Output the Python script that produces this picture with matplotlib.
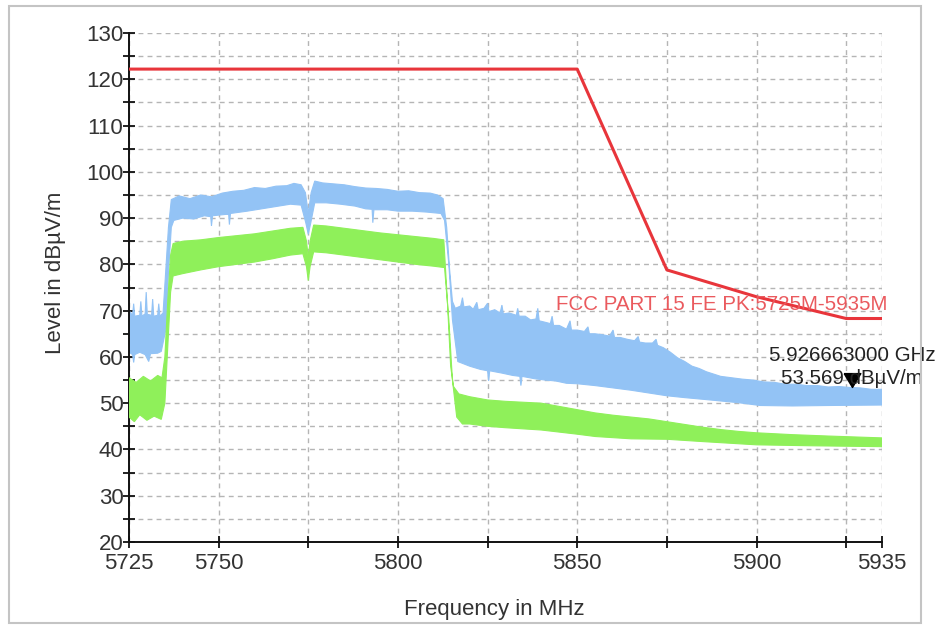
import matplotlib
matplotlib.use('Agg')
import matplotlib.pyplot as plt
from matplotlib.patches import Rectangle
import numpy as np

plt.rcParams['font.family'] = ['Liberation Sans', 'DejaVu Sans']

# limit line FCC PART 15 FE PK
limit_freq = [5725, 5850, 5875, 5900, 5925, 5935]
limit_level = [122.2, 122.2, 78.8, 73.0, 68.3, 68.3]

# peak trace (blue) envelope
blue_top_freq = [5725, 5726, 5726.3, 5726.6, 5728, 5728.3, 5728.6, 5729.5, 5729.8, 5730.1,
                 5731.3, 5731.6, 5731.9, 5733, 5733.3, 5733.6, 5734.5,
                 5735.2, 5736, 5736.8, 5739, 5742, 5745, 5748, 5751, 5754, 5757, 5760, 5763,
                 5766, 5769, 5771, 5773, 5774.2, 5775, 5775.8, 5776.8, 5779, 5782, 5785, 5788,
                 5791, 5794, 5797, 5800, 5803, 5806, 5809, 5811, 5812.6, 5813.6, 5814.4, 5815.2,
                 5816, 5817.5, 5818, 5818.4, 5820, 5821, 5822, 5822.4, 5824, 5825, 5825.4,
                 5827, 5828.5, 5829, 5829.4, 5831, 5833, 5833.4, 5833.8, 5835.5, 5837, 5838.5,
                 5839, 5839.4, 5841, 5842.5, 5843, 5843.4, 5845, 5847, 5848, 5848.4, 5850,
                 5852, 5853, 5853.4, 5855, 5857, 5859, 5860, 5860.4, 5862, 5864, 5866, 5867,
                 5867.4, 5869, 5871, 5872, 5872.4, 5874, 5876, 5878, 5880, 5882, 5884, 5886,
                 5888, 5890, 5893, 5896, 5899, 5902, 5905, 5908, 5911, 5914, 5917, 5920, 5923,
                 5926, 5929, 5932, 5935]
blue_top = [70, 69, 71.5, 68.8, 69, 72, 68.8, 69.3, 74, 69.2,
            69, 72.5, 68.8, 69, 71.5, 68.8, 69.5,
            78, 88, 94, 94.8, 94.2, 95, 94.6, 95.4, 95.8, 96, 96.6, 96.4,
            96.9, 97, 97.5, 97.2, 95.5, 91, 95.5, 98, 97.6, 97.4, 97.2, 96.8,
            96.5, 96.4, 96.2, 95.8, 95.9, 95.5, 95.4, 95, 94.2, 88, 79, 72,
            70.5, 71, 72.8, 70.8, 71, 70.3, 71.8, 70.2, 70.5, 71.6, 69.8,
            70.2, 69.5, 71.2, 69.3, 69.5, 69, 70.5, 68.8, 68.8, 68, 68.2,
            70.5, 67.8, 67.5, 67.2, 68.8, 66.8, 66.8, 66, 67.8, 65.8, 65.8,
            65.5, 66.5, 65, 65, 64.8, 64.5, 65.8, 64.2, 64.2, 63.8, 63.5, 64.4,
            63.2, 63, 63, 63.8, 62.5, 62, 61, 59.8, 59, 58, 57.5, 56.8,
            56.3, 55.8, 55.5, 55.2, 55, 54.6, 54.5, 54.1, 54.1, 53.8, 53.8, 53.5, 53.6,
            53.4, 53.3, 53.0, 53]
blue_low_freq = [5725, 5726, 5726.3, 5726.6, 5728, 5729.5, 5730.5, 5731, 5733, 5734, 5735.3,
                 5736, 5736.8, 5737.5, 5740, 5743, 5746, 5747.8, 5748, 5748.3, 5752, 5752.8,
                 5753, 5753.3, 5758, 5762, 5766, 5770, 5773, 5774.3, 5775, 5775.7, 5776.8,
                 5780, 5784, 5788, 5791, 5792.8, 5793, 5793.3, 5797, 5800, 5804, 5808, 5812,
                 5813, 5814.2, 5815.2, 5816.7, 5820, 5823, 5825, 5825.3, 5825.6, 5829, 5832,
                 5834, 5834.3, 5834.6, 5838, 5841, 5844, 5847, 5850, 5855, 5860, 5865, 5870,
                 5875, 5880, 5887, 5895, 5901, 5910, 5920, 5935]
blue_low = [61, 60.5, 58.8, 60.5, 61, 60.5, 59, 60.7, 60.8, 61.2, 66,
            78, 88, 89.5, 90, 89.8, 90.5, 90.3, 88.3, 90.5, 90.8, 90.8,
            88.6, 91, 91.5, 92, 92.5, 93, 92.8, 89, 86.5, 89, 93.3,
            93.3, 93, 92.6, 92, 91.9, 89, 91.8, 91.8, 91.5, 91.5, 91.3, 91,
            89.5, 80, 68, 59, 58, 57.3, 57, 54.8, 57, 56.5, 56,
            55.8, 53.8, 55.8, 55.3, 55, 54.8, 54.3, 54.2, 53.8, 53.3, 52.8, 52.2,
            51.6, 51.2, 50.7, 50.1, 49.5, 49.4, 49.5, 49.6]

# average trace (green) envelope
green_top_freq = [5725, 5727, 5729, 5731, 5733, 5734.2, 5735, 5735.8, 5736.6, 5737.3, 5740,
                  5745, 5750, 5755, 5760, 5765, 5770, 5773.5, 5774.5, 5775, 5775.5, 5776.5,
                  5780, 5785, 5790, 5795, 5800, 5805, 5810, 5812.8, 5813.8, 5814.7, 5815.5,
                  5817, 5820, 5825, 5830, 5835, 5840, 5845, 5850, 5855, 5860, 5865, 5870,
                  5875, 5880, 5885, 5890, 5895, 5900, 5910, 5920, 5935]
green_top = [55.5, 54.5, 55.8, 54.8, 56, 55.5, 60, 72, 82, 84.5, 85,
             85.3, 85.8, 86.2, 86.6, 87.2, 87.8, 88, 85, 81.5, 85, 88.5,
             88.3, 87.8, 87.3, 86.8, 86.4, 86, 85.6, 85.3, 72, 58, 53.6,
             52, 51.4, 50.7, 50.4, 50.2, 50, 49.3, 48.6, 47.9, 47.4, 47, 46.6,
             46, 45.4, 44.8, 44.3, 43.9, 43.6, 43.2, 42.9, 42.5]
green_low_freq = [5725, 5726.5, 5728, 5730, 5732, 5734, 5735, 5735.8, 5736.6, 5737.3, 5740,
                  5745, 5750, 5755, 5760, 5765, 5770, 5773.5, 5774.5, 5775, 5775.5, 5776.5,
                  5780, 5785, 5790, 5795, 5800, 5805, 5810, 5813, 5814.2, 5815.2, 5816.4,
                  5818, 5820, 5825, 5830, 5840, 5850, 5855, 5865, 5875, 5885, 5900, 5915, 5935]
green_low = [47, 46, 47.5, 46.3, 47.2, 46.5, 50, 62, 74, 77.5, 78,
             78.8, 79.5, 80, 80.5, 81.2, 82, 82.3, 79.5, 76.5, 79.5, 82.7,
             82.5, 82, 81.5, 81, 80.5, 80, 79.6, 79.3, 68, 55, 47,
             45.5, 45.5, 45, 44.7, 44.2, 43.3, 42.8, 42.3, 42.2, 41.7, 41, 40.8, 40.6]

marker_freq = 5926.663
marker_level = 53.569

xticks = [5725, 5750, 5775, 5800, 5825, 5850, 5875, 5900, 5925, 5935]
xtick_labels = ['5725', '5750', '', '5800', '', '5850', '', '5900', '', '5935']
yticks = [20, 30, 40, 50, 60, 70, 80, 90, 100, 110, 120, 130]

fig = plt.figure(figsize=(9.39, 6.28), dpi=100)
ax = fig.add_axes([129 / 939, 1 - 542 / 628, 753 / 939, 509 / 628])

blue = '#93c3f5'
green = '#8ff05a'
red = '#e8353b'

# fill the noisy traces as envelopes
ax.fill(np.concatenate([blue_top_freq, blue_low_freq[::-1]]),
        np.concatenate([blue_top, blue_low[::-1]]),
        color=blue, lw=0.8, zorder=2)
ax.fill(np.concatenate([green_top_freq, green_low_freq[::-1]]),
        np.concatenate([green_top, green_low[::-1]]),
        color=green, lw=0.8, zorder=3)

ax.plot(limit_freq, limit_level, color=red, lw=2.2, zorder=4)

ax.text(5936.5, 71.4, 'FCC PART 15 FE PK:5725M-5935M', color='#ea5a5e',
        fontsize=14.8, ha='right', va='center', zorder=5)

# marker with its tip at the point
tri = [(-0.6, 1.0), (0.6, 1.0), (0.0, 0.0), (-0.6, 1.0)]
ax.plot([marker_freq], [marker_level], marker=tri, markersize=20, color='black',
        ls='none', zorder=6, clip_on=False)
ax.text(marker_freq, 60.4, '%.9f GHz' % (marker_freq / 1000), fontsize=14.8,
        ha='center', va='center', color='#222222', zorder=6)
ax.text(marker_freq, 55.3, '%.3f dBµV/m' % marker_level, fontsize=14.8,
        ha='center', va='center', color='#222222', zorder=6)

ax.set_xlim(5725, 5935)
ax.set_ylim(20, 130)
ax.set_xticks(xticks, xtick_labels)
ax.set_yticks(yticks)
ax.set_yticks(np.arange(25, 130, 10), minor=True)

for s in ['top', 'right']:
    ax.spines[s].set_visible(False)
for s in ['left', 'bottom']:
    ax.spines[s].set_linewidth(1.4)
    ax.spines[s].set_color('#111111')

ax.tick_params(which='both', direction='inout', length=8, width=1.3, colors='#111111',
               labelsize=16, labelcolor='#333333')
ax.tick_params(axis='y', pad=0)
ax.tick_params(axis='x', pad=4)

ax.set_axisbelow(True)
grid_kw = dict(color='#b5b5b5', lw=1.0, ls=(0, (3.5, 3)))
ax.grid(True, which='major', axis='x', **grid_kw)
ax.grid(True, which='both', axis='y', **grid_kw)

fig.text(55 / 939, 1 - 273 / 628, 'Level in dBµV/m', rotation=90, fontsize=16,
         ha='center', va='center', color='#333333')
fig.text(494 / 939, 1 - 609 / 628, 'Frequency in MHz', fontsize=16,
         ha='center', va='center', color='#333333')

# outer frame
fig.patches.append(Rectangle((9 / 939, 5 / 628), 912 / 939, 617 / 628,
                             transform=fig.transFigure, fill=False,
                             edgecolor='#c4c4c4', lw=1.5, zorder=0))

fig.savefig('out.png', dpi=100)
